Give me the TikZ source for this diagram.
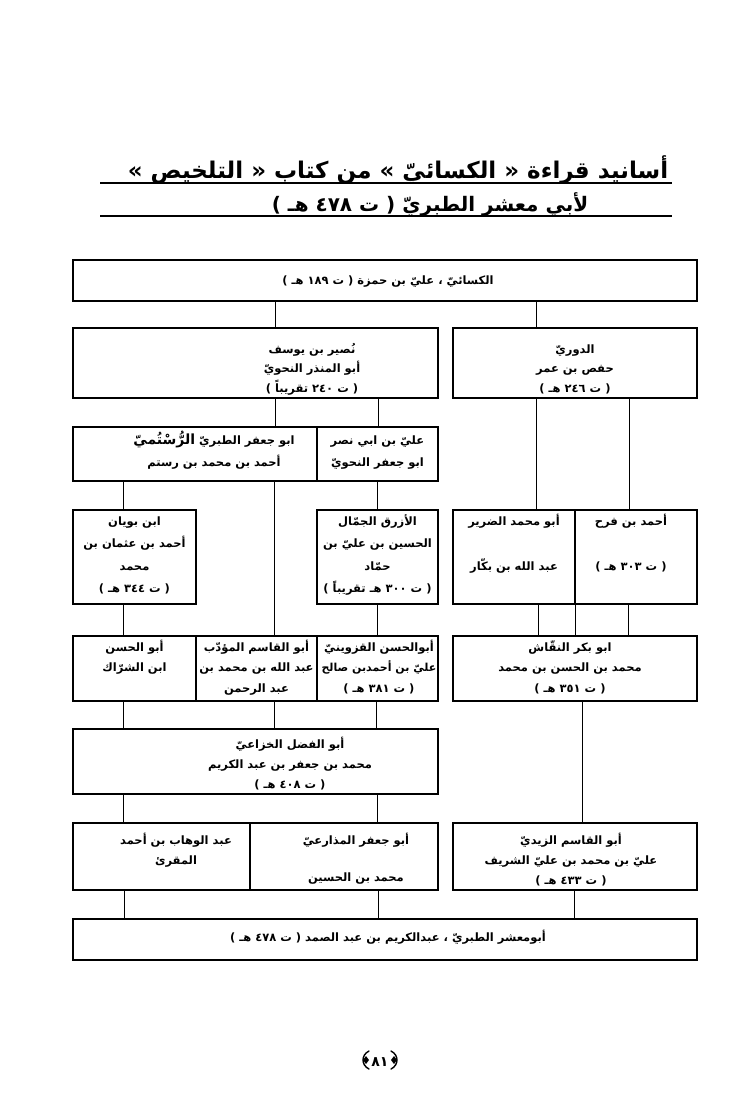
\documentclass[tikz,border=0pt]{standalone}
\usepackage{fontspec}
\TeXXeTstate=1
\newfontfamily\arabicfont[Script=Arabic]{DejaVu Sans}
\newcommand{\ar}[1]{\beginR\rule{0pt}{14pt}#1\endR}
\newcommand{\bx}[5]{\node[box, minimum width={#4pt-#2pt}, minimum height={#5pt-#3pt}] (#1) at (#2,#3) {};}
\begin{document}
\begin{tikzpicture}[x=1pt,y=-1pt,
  box/.style={draw, line width=1.5pt, inner sep=0pt, outer sep=0pt, anchor=north west},
  txt/.style={font=\arabicfont\bfseries\fontsize{11.5}{#1}\selectfont, align=center, inner sep=0pt, anchor=north},
  txt/.default=20,
  ttl/.style={font=\arabicfont\bfseries\fontsize{#1}{24}\selectfont, inner sep=0pt, anchor=base},
  link/.style={line width=0.9pt},
  uline/.style={line width=1.8pt}]
\useasboundingbox (0,0) rectangle (754,1098);
% title
\node[ttl=23] (title1) at (398,178) {\beginR أسانيد قراءة « الكسائيّ » من كتاب « التلخيص »\endR};
\node[ttl=20] (title2) at (430,211) {\beginR لأبي معشر الطبريّ ( ت ٤٧٨ هـ )\endR};
\draw[uline] (100,183) -- (672,183);
\draw[uline] (100,216) -- (672,216);
% boxes
\bx{top}{73}{260}{697}{301}
\bx{nus}{73}{328}{438}{398}
\bx{duri}{453}{328}{697}{398}
\bx{tab}{73}{427}{317}{481}
\bx{alin}{317}{427}{438}{481}
\bx{buy}{73}{510}{196}{604}
\bx{azr}{317}{510}{438}{604}
\bx{darir}{453}{510}{575}{604}
\bx{farh}{575}{510}{697}{604}
\bx{shur}{73}{636}{196}{701}
\bx{muad}{196}{636}{317}{701}
\bx{qaz}{317}{636}{438}{701}
\bx{naq}{453}{636}{697}{701}
\bx{fadl}{73}{729}{438}{794}
\bx{wah}{73}{823}{250}{890}
\bx{dhar}{250}{823}{438}{890}
\bx{zay}{453}{823}{697}{890}
\bx{fin}{73}{919}{697}{960}
% texts
\node[txt] (ttop) at (388,270) {\ar{الكسائيّ ، عليّ بن حمزة ( ت ١٨٩ هـ )}};
\node[txt=19.5] (tnus) at (312,339) {\ar{نُصير بن يوسف}\\\ar{أبو المنذر النحويّ}\\\ar{( ت ٢٤٠ تقريباً )}};
\node[txt=19.5] (tduri) at (575,339) {\ar{الدوريّ}\\\ar{حفص بن عمر}\\\ar{( ت ٢٤٦ هـ )}};
\node[txt=22] (ttab) at (214,430) {\ar{ابو جعفر الطبريّ {\fontsize{14}{22}\selectfont الرُّسْتُميّ}}\\\ar{أحمد بن محمد بن رستم}};
\node[txt=22] (talin) at (377.5,430) {\ar{عليّ بن ابي نصر}\\\ar{ابو جعفر النحويّ}};
\node[txt=22.5] (tbuy) at (134.5,511) {\ar{ابن بويان}\\\ar{أحمد بن عثمان بن}\\\ar{محمد}\\\ar{( ت ٣٤٤ هـ )}};
\node[txt=22.5] (tazr) at (377.5,511) {\ar{الأزرق الجمّال}\\\ar{الحسين بن عليّ بن}\\\ar{حمّاد}\\\ar{( ت ٣٠٠ هـ تقريباً )}};
\node[txt=22.5] (tdarir) at (514,511) {\ar{أبو محمد الضرير}\\[22.5pt]\ar{عبد الله بن بكّار}};
\node[txt=22.5] (tfarh) at (631,511) {\ar{أحمد بن فرح}\\[22.5pt]\ar{( ت ٣٠٣ هـ )}};
\node[txt=20.5] (tshur) at (134.5,637) {\ar{أبو الحسن}\\\ar{ابن الشرّاك}};
\node[txt=20.5] (tmuad) at (256.5,637) {\ar{أبو القاسم المؤدّب}\\\ar{عبد الله بن محمد بن}\\\ar{عبد الرحمن}};
\node[txt=20.5] (tqaz) at (379,637) {\ar{أبوالحسن القزوينيّ}\\\ar{{\fontsize{11}{20.5}\selectfont عليّ بن أحمدبن صالح}}\\\ar{( ت ٣٨١ هـ )}};
\node[txt=20.5] (tnaq) at (570,637) {\ar{ابو بكر النقّاش}\\\ar{محمد بن الحسن بن محمد}\\\ar{( ت ٣٥١ هـ )}};
\node[txt] (tfadl) at (290,734) {\ar{أبو الفضل الخزاعيّ}\\\ar{محمد بن جعفر بن عبد الكريم}\\\ar{( ت ٤٠٨ هـ )}};
\node[txt] (twah) at (176,830) {\ar{عبد الوهاب بن أحمد}\\\ar{المقرئ}};
\node[txt] (tdhar) at (356,830) {\ar{أبو جعفر المذارعيّ}\\[17pt]\ar{محمد بن الحسين}};
\node[txt] (tzay) at (571,830) {\ar{أبو القاسم الزيديّ}\\\ar{عليّ بن محمد بن عليّ الشريف}\\\ar{( ت ٤٣٣ هـ )}};
\node[txt] (tfin) at (388,927) {\ar{أبومعشر الطبريّ ، عبدالكريم بن عبد الصمد ( ت ٤٧٨ هـ )}};
% connectors
\draw[link] (275,0 |- top.south) -- (275,0 |- nus.north);
\draw[link] (536,0 |- top.south) -- (536,0 |- duri.north);
\draw[link] (275,0 |- nus.south) -- (275,0 |- tab.north);
\draw[link] (378,0 |- nus.south) -- (378,0 |- alin.north);
\draw[link] (536,0 |- duri.south) -- (536,0 |- darir.north);
\draw[link] (629,0 |- duri.south) -- (629,0 |- farh.north);
\draw[link] (123,0 |- tab.south) -- (123,0 |- buy.north);
\draw[link] (274,0 |- tab.south) -- (274,0 |- muad.north);
\draw[link] (377,0 |- alin.south) -- (377,0 |- azr.north);
\draw[link] (123,0 |- buy.south) -- (123,0 |- shur.north);
\draw[link] (377,0 |- azr.south) -- (377,0 |- qaz.north);
\draw[link] (538,0 |- darir.south) -- (538,0 |- naq.north);
\draw[link] (575,0 |- farh.south) -- (575,0 |- naq.north);
\draw[link] (628,0 |- farh.south) -- (628,0 |- naq.north);
\draw[link] (123,0 |- shur.south) -- (123,0 |- fadl.north);
\draw[link] (274,0 |- muad.south) -- (274,0 |- fadl.north);
\draw[link] (376,0 |- qaz.south) -- (376,0 |- fadl.north);
\draw[link] (582,0 |- naq.south) -- (582,0 |- zay.north);
\draw[link] (123,0 |- fadl.south) -- (123,0 |- wah.north);
\draw[link] (377,0 |- fadl.south) -- (377,0 |- dhar.north);
\draw[link] (124,0 |- wah.south) -- (124,0 |- fin.north);
\draw[link] (378,0 |- dhar.south) -- (378,0 |- fin.north);
\draw[link] (574,0 |- zay.south) -- (574,0 |- fin.north);
% page number with ornate brackets drawn as shapes
\node[font=\arabicfont\bfseries\fontsize{14}{16}\selectfont, inner sep=0pt, anchor=base] (page) at (380,1066) {\beginR ٨١\endR};
\fill (363,1060) -- (366,1056) -- (369,1060) -- (366,1064) -- cycle;
\draw[line width=1.4pt, line cap=round] (369,1051) .. controls (361,1055) and (361,1065) .. (369,1069);
\fill (391,1060) -- (394,1056) -- (397,1060) -- (394,1064) -- cycle;
\draw[line width=1.4pt, line cap=round] (391,1051) .. controls (399,1055) and (399,1065) .. (391,1069);
\end{tikzpicture}
\end{document}
